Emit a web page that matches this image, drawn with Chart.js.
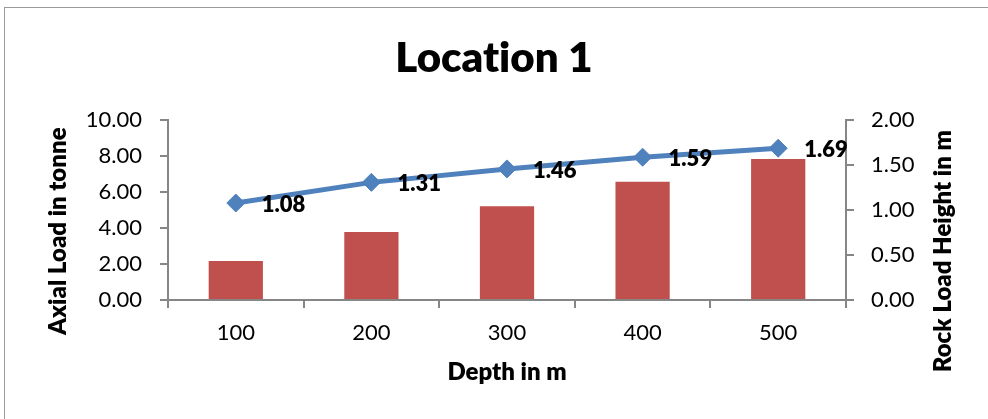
<!DOCTYPE html>
<html>
<head>
<meta charset="utf-8">
<script src="https://cdn.jsdelivr.net/npm/chart.js@4"></script>
<style>
    body { margin: 0; background: #fff; overflow: hidden; }
    #wrap { position: relative; width: 988px; height: 419px; }
    #frame { position: absolute; left: 4px; top: 7px; width: 1000px; height: 500px; border: 1px solid #9a9a9a; }
    #chart { position: absolute; left: 0; top: 0; }
</style>
</head>
<body>
<div id="wrap">
    <div id="frame"></div>
    <canvas id="chart" width="988" height="419"></canvas>
</div>
<script>
//data
var depths = ["100", "200", "300", "400", "500"];
var axialLoad = [2.17, 3.78, 5.22, 6.59, 7.85];
var rockLoadHeight = [1.08, 1.31, 1.46, 1.59, 1.69];

//colours
var barColor = "#C0504D";
var lineColor = "#4F81BD";
var axisColor = "#868686";
var fontName = "Lato";

// draws the two y titles (both read bottom to top) and the point labels
var extrasPlugin = {
    id: "extras",
    beforeDraw: function(chart) {
        //no "ti" ligature, like the original
        chart.ctx.textRendering = "optimizeSpeed";
    },
    afterDatasetsDraw: function(chart) {
        var ctx = chart.ctx;
        ctx.save();
        ctx.fillStyle = "#000";
        ctx.font = "800 22px " + fontName;
        ctx.textAlign = "left";
        ctx.textBaseline = "middle";
        var meta = chart.getDatasetMeta(0);
        meta.data.forEach(function(pt, i) {
            ctx.fillText(rockLoadHeight[i].toFixed(2), pt.x + 26, pt.y + 2);
        });
        ctx.restore();
    },
    afterDraw: function(chart) {
        var ctx = chart.ctx;
        var area = chart.chartArea;
        var mid = (area.top + area.bottom) / 2;
        ctx.save();
        ctx.fillStyle = "#000";
        ctx.font = "800 24px " + fontName;
        ctx.textAlign = "center";
        ctx.textBaseline = "middle";

        ctx.save();
        ctx.translate(chart.scales.y.left + 58, mid + 21);
        ctx.rotate(-Math.PI / 2);
        ctx.fillText("Axial Load in tonne", 0, 0);
        ctx.restore();

        ctx.save();
        ctx.translate(chart.scales.y1.right - 45, mid + 41);
        ctx.rotate(-Math.PI / 2);
        ctx.fillText("Rock Load Height in m", 0, 0);
        ctx.restore();

        ctx.restore();
    }
};

new Chart("chart", {
    type: "bar",
    data: {
        labels: depths,
        datasets: [{
            type: "line",
            label: "Rock Load Height",
            data: rockLoadHeight,
            yAxisID: "y1",
            borderColor: lineColor,
            backgroundColor: lineColor,
            borderWidth: 5,
            tension: 0,
            pointStyle: "rectRot",
            pointRadius: 9,
            pointBackgroundColor: lineColor,
            pointBorderColor: lineColor,
            pointBorderWidth: 1
        }, {
            type: "bar",
            label: "Axial Load",
            data: axialLoad,
            yAxisID: "y",
            backgroundColor: barColor,
            barPercentage: 0.4,
            categoryPercentage: 1.0
        }]
    },
    options: {
        responsive: false,
        animation: false,
        devicePixelRatio: 1,
        layout: { padding: 0 },
        plugins: {
            legend: { display: false },
            tooltip: { enabled: false },
            title: {
                display: true,
                text: "Location 1",
                color: "#000",
                font: { family: fontName, size: 42, weight: "800", lineHeight: 1.2 },
                padding: { top: 33, bottom: 37 }
            }
        },
        scales: {
            x: {
                grid: { display: true, drawOnChartArea: false, drawTicks: true, tickLength: 8, color: axisColor, lineWidth: 2, offset: true },
                border: { display: true, color: axisColor, width: 2 },
                ticks: { color: "#000", font: { family: fontName, size: 22 }, padding: 12 },
                title: {
                    display: true,
                    text: "Depth in m",
                    color: "#000",
                    font: { family: fontName, size: 24, weight: "800", lineHeight: 1.2 },
                    padding: { top: 0, bottom: 32 }
                },
                afterFit: function(scale) { scale.height = 119; }
            },
            y: {
                position: "left",
                min: 0,
                max: 10,
                ticks: {
                    stepSize: 2,
                    color: "#000",
                    font: { family: fontName, size: 22 },
                    padding: 18,
                    callback: function(v) { return v.toFixed(2); }
                },
                grid: { display: true, drawOnChartArea: false, drawTicks: true, tickLength: 8, color: axisColor, lineWidth: 2 },
                border: { display: true, color: axisColor, width: 2 },
                afterFit: function(scale) { scale.width = 168; }
            },
            y1: {
                position: "right",
                min: 0,
                max: 2,
                ticks: {
                    stepSize: 0.5,
                    color: "#000",
                    font: { family: fontName, size: 22 },
                    padding: 17,
                    callback: function(v) { return v.toFixed(2); }
                },
                grid: { display: true, drawOnChartArea: false, drawTicks: true, tickLength: 8, color: axisColor, lineWidth: 2 },
                border: { display: true, color: axisColor, width: 2 },
                afterFit: function(scale) { scale.width = 142; }
            }
        }
    },
    plugins: [extrasPlugin]
});
</script>
</body>
</html>
